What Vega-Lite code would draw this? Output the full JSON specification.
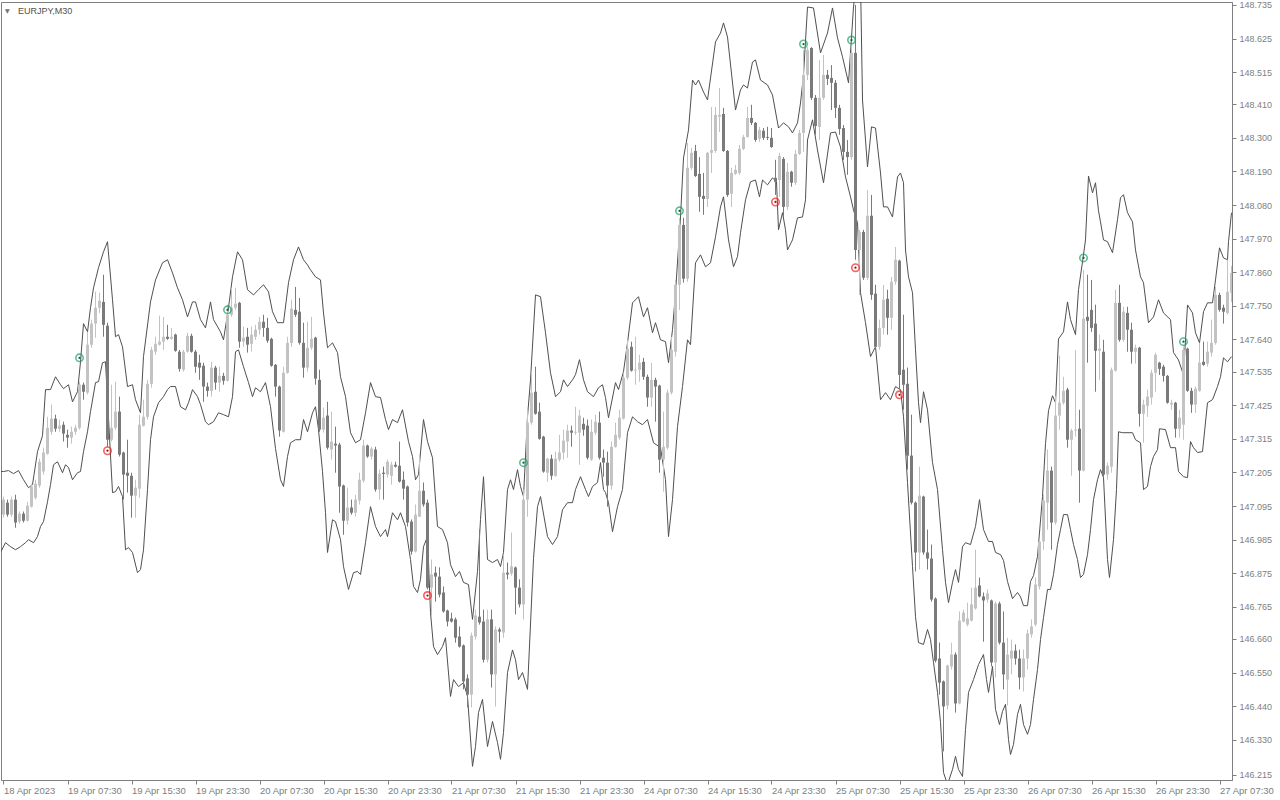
{
"$schema":"https://vega.github.io/schema/vega-lite/v6.json",
"width":1231,"height":778,"autosize":{"type":"none"},
"padding":{"left":1,"top":2,"right":48,"bottom":20},
"background":"#ffffff",
"config":{"view":{"stroke":"#808080"},"axis":{"labelFont":"Liberation Sans","labelFontSize":9,"labelColor":"#808080","tickColor":"#808080","domainColor":"#808080","grid":false,"tickSize":4,"labelOverlap":false,"labelFlush":false,"labelBound":false}},
"resolve":{"axis":{"x":"independent","y":"independent"}},
"datasets":{
"candles":[
{"i":0,"o":147.067,"h":147.126,"l":147.057,"c":147.116},
{"i":1,"o":147.106,"h":147.116,"l":147.060,"c":147.067},
{"i":2,"o":147.067,"h":147.126,"l":147.060,"c":147.116},
{"i":3,"o":147.116,"h":147.132,"l":147.024,"c":147.041},
{"i":4,"o":147.044,"h":147.077,"l":147.037,"c":147.070},
{"i":5,"o":147.070,"h":147.077,"l":147.041,"c":147.047},
{"i":6,"o":147.047,"h":147.109,"l":147.044,"c":147.096},
{"i":7,"o":147.093,"h":147.168,"l":147.090,"c":147.159},
{"i":8,"o":147.122,"h":147.181,"l":147.116,"c":147.168},
{"i":9,"o":147.162,"h":147.250,"l":147.155,"c":147.240},
{"i":10,"o":147.208,"h":147.286,"l":147.198,"c":147.270},
{"i":11,"o":147.266,"h":147.387,"l":147.263,"c":147.351},
{"i":12,"o":147.338,"h":147.427,"l":147.328,"c":147.381},
{"i":13,"o":147.381,"h":147.394,"l":147.338,"c":147.348},
{"i":14,"o":147.348,"h":147.378,"l":147.338,"c":147.358},
{"i":15,"o":147.361,"h":147.371,"l":147.306,"c":147.332},
{"i":16,"o":147.328,"h":147.345,"l":147.286,"c":147.319},
{"i":17,"o":147.319,"h":147.355,"l":147.299,"c":147.338},
{"i":18,"o":147.338,"h":147.361,"l":147.328,"c":147.351},
{"i":19,"o":147.351,"h":147.502,"l":147.345,"c":147.492},
{"i":20,"o":147.492,"h":147.499,"l":147.443,"c":147.469},
{"i":21,"o":147.466,"h":147.665,"l":147.460,"c":147.623},
{"i":22,"o":147.623,"h":147.705,"l":147.613,"c":147.692},
{"i":23,"o":147.692,"h":147.796,"l":147.646,"c":147.744},
{"i":24,"o":147.744,"h":147.793,"l":147.727,"c":147.767},
{"i":25,"o":147.763,"h":147.852,"l":147.649,"c":147.688},
{"i":26,"o":147.685,"h":147.695,"l":147.289,"c":147.312},
{"i":27,"o":147.312,"h":147.492,"l":147.306,"c":147.351},
{"i":28,"o":147.351,"h":147.502,"l":147.345,"c":147.404},
{"i":29,"o":147.404,"h":147.453,"l":147.257,"c":147.263},
{"i":30,"o":147.270,"h":147.273,"l":147.116,"c":147.198},
{"i":31,"o":147.204,"h":147.312,"l":147.139,"c":147.194},
{"i":32,"o":147.194,"h":147.204,"l":147.057,"c":147.129},
{"i":33,"o":147.129,"h":147.181,"l":147.057,"c":147.155},
{"i":34,"o":147.152,"h":147.394,"l":147.122,"c":147.361},
{"i":35,"o":147.358,"h":147.443,"l":147.355,"c":147.387},
{"i":36,"o":147.387,"h":147.508,"l":147.378,"c":147.495},
{"i":37,"o":147.495,"h":147.616,"l":147.482,"c":147.606},
{"i":38,"o":147.600,"h":147.649,"l":147.590,"c":147.626},
{"i":39,"o":147.623,"h":147.718,"l":147.620,"c":147.633},
{"i":40,"o":147.633,"h":147.714,"l":147.606,"c":147.649},
{"i":41,"o":147.649,"h":147.688,"l":147.639,"c":147.642},
{"i":42,"o":147.642,"h":147.678,"l":147.639,"c":147.649},
{"i":43,"o":147.656,"h":147.659,"l":147.600,"c":147.603},
{"i":44,"o":147.600,"h":147.606,"l":147.535,"c":147.544},
{"i":45,"o":147.541,"h":147.606,"l":147.535,"c":147.600},
{"i":46,"o":147.600,"h":147.662,"l":147.597,"c":147.652},
{"i":47,"o":147.652,"h":147.659,"l":147.597,"c":147.600},
{"i":48,"o":147.600,"h":147.606,"l":147.531,"c":147.551},
{"i":49,"o":147.564,"h":147.590,"l":147.508,"c":147.548},
{"i":50,"o":147.554,"h":147.564,"l":147.436,"c":147.486},
{"i":51,"o":147.486,"h":147.499,"l":147.453,"c":147.472},
{"i":52,"o":147.472,"h":147.567,"l":147.453,"c":147.548},
{"i":53,"o":147.548,"h":147.554,"l":147.476,"c":147.499},
{"i":54,"o":147.499,"h":147.551,"l":147.469,"c":147.521},
{"i":55,"o":147.521,"h":147.531,"l":147.492,"c":147.505},
{"i":56,"o":147.505,"h":147.754,"l":147.502,"c":147.721},
{"i":57,"o":147.721,"h":147.809,"l":147.714,"c":147.744},
{"i":58,"o":147.744,"h":147.809,"l":147.737,"c":147.757},
{"i":59,"o":147.760,"h":147.763,"l":147.613,"c":147.633},
{"i":60,"o":147.633,"h":147.682,"l":147.616,"c":147.646},
{"i":61,"o":147.649,"h":147.678,"l":147.597,"c":147.623},
{"i":62,"o":147.626,"h":147.682,"l":147.600,"c":147.656},
{"i":63,"o":147.649,"h":147.688,"l":147.639,"c":147.672},
{"i":64,"o":147.672,"h":147.714,"l":147.656,"c":147.698},
{"i":65,"o":147.698,"h":147.721,"l":147.649,"c":147.678},
{"i":66,"o":147.678,"h":147.711,"l":147.629,"c":147.636},
{"i":67,"o":147.642,"h":147.646,"l":147.551,"c":147.554},
{"i":68,"o":147.557,"h":147.560,"l":147.453,"c":147.486},
{"i":69,"o":147.486,"h":147.489,"l":147.322,"c":147.342},
{"i":70,"o":147.338,"h":147.551,"l":147.335,"c":147.531},
{"i":71,"o":147.531,"h":147.649,"l":147.528,"c":147.629},
{"i":72,"o":147.629,"h":147.770,"l":147.616,"c":147.741},
{"i":73,"o":147.737,"h":147.812,"l":147.714,"c":147.721},
{"i":74,"o":147.731,"h":147.776,"l":147.623,"c":147.629},
{"i":75,"o":147.629,"h":147.695,"l":147.515,"c":147.548},
{"i":76,"o":147.548,"h":147.698,"l":147.535,"c":147.613},
{"i":77,"o":147.613,"h":147.714,"l":147.606,"c":147.642},
{"i":78,"o":147.646,"h":147.649,"l":147.492,"c":147.512},
{"i":79,"o":147.508,"h":147.541,"l":147.338,"c":147.345},
{"i":80,"o":147.345,"h":147.417,"l":147.335,"c":147.384},
{"i":81,"o":147.391,"h":147.436,"l":147.280,"c":147.286},
{"i":82,"o":147.280,"h":147.404,"l":147.247,"c":147.306},
{"i":83,"o":147.299,"h":147.355,"l":147.204,"c":147.293},
{"i":84,"o":147.296,"h":147.302,"l":147.073,"c":147.159},
{"i":85,"o":147.162,"h":147.165,"l":147.001,"c":147.047},
{"i":86,"o":147.047,"h":147.155,"l":147.034,"c":147.090},
{"i":87,"o":147.090,"h":147.116,"l":147.067,"c":147.073},
{"i":88,"o":147.073,"h":147.132,"l":147.060,"c":147.116},
{"i":89,"o":147.113,"h":147.204,"l":147.100,"c":147.181},
{"i":90,"o":147.178,"h":147.312,"l":147.172,"c":147.293},
{"i":91,"o":147.293,"h":147.296,"l":147.253,"c":147.257},
{"i":92,"o":147.257,"h":147.289,"l":147.247,"c":147.283},
{"i":93,"o":147.280,"h":147.289,"l":147.142,"c":147.149},
{"i":94,"o":147.149,"h":147.214,"l":147.116,"c":147.201},
{"i":95,"o":147.204,"h":147.224,"l":147.116,"c":147.200},
{"i":96,"o":147.198,"h":147.247,"l":147.188,"c":147.240},
{"i":97,"o":147.194,"h":147.240,"l":147.165,"c":147.230},
{"i":98,"o":147.230,"h":147.240,"l":147.221,"c":147.224},
{"i":99,"o":147.227,"h":147.306,"l":147.172,"c":147.175},
{"i":100,"o":147.181,"h":147.208,"l":147.116,"c":147.152},
{"i":101,"o":147.159,"h":147.162,"l":147.028,"c":147.041},
{"i":102,"o":147.044,"h":147.051,"l":146.936,"c":146.946},
{"i":103,"o":146.946,"h":147.100,"l":146.943,"c":147.067},
{"i":104,"o":147.060,"h":147.263,"l":147.060,"c":147.145},
{"i":105,"o":147.145,"h":147.172,"l":147.093,"c":147.100},
{"i":106,"o":147.106,"h":147.116,"l":146.822,"c":146.828},
{"i":107,"o":146.828,"h":146.920,"l":146.733,"c":146.871},
{"i":108,"o":146.877,"h":146.897,"l":146.782,"c":146.864},
{"i":109,"o":146.864,"h":146.894,"l":146.796,"c":146.805},
{"i":110,"o":146.812,"h":146.832,"l":146.746,"c":146.750},
{"i":111,"o":146.753,"h":146.756,"l":146.701,"c":146.717},
{"i":112,"o":146.727,"h":146.746,"l":146.714,"c":146.717},
{"i":113,"o":146.724,"h":146.730,"l":146.648,"c":146.664},
{"i":114,"o":146.668,"h":146.701,"l":146.632,"c":146.635},
{"i":115,"o":146.639,"h":146.642,"l":146.495,"c":146.521},
{"i":116,"o":146.531,"h":146.544,"l":146.436,"c":146.478},
{"i":117,"o":146.478,"h":146.681,"l":146.436,"c":146.671},
{"i":118,"o":146.668,"h":146.756,"l":146.658,"c":146.737},
{"i":119,"o":146.733,"h":147.018,"l":146.707,"c":146.714},
{"i":120,"o":146.717,"h":146.756,"l":146.583,"c":146.592},
{"i":121,"o":146.592,"h":146.756,"l":146.583,"c":146.724},
{"i":122,"o":146.724,"h":146.756,"l":146.501,"c":146.544},
{"i":123,"o":146.544,"h":146.701,"l":146.439,"c":146.691},
{"i":124,"o":146.691,"h":146.697,"l":146.648,"c":146.684},
{"i":125,"o":146.681,"h":146.936,"l":146.664,"c":146.877},
{"i":126,"o":146.877,"h":146.910,"l":146.855,"c":146.871},
{"i":127,"o":146.874,"h":147.008,"l":146.867,"c":146.897},
{"i":128,"o":146.894,"h":146.897,"l":146.740,"c":146.828},
{"i":129,"o":146.828,"h":146.855,"l":146.763,"c":146.773},
{"i":130,"o":146.773,"h":147.149,"l":146.724,"c":147.116},
{"i":131,"o":147.116,"h":147.410,"l":147.060,"c":147.368},
{"i":132,"o":147.368,"h":147.535,"l":147.361,"c":147.466},
{"i":133,"o":147.469,"h":147.551,"l":147.394,"c":147.397},
{"i":134,"o":147.404,"h":147.433,"l":147.312,"c":147.315},
{"i":135,"o":147.322,"h":147.325,"l":147.204,"c":147.208},
{"i":136,"o":147.204,"h":147.253,"l":147.175,"c":147.250},
{"i":137,"o":147.250,"h":147.263,"l":147.181,"c":147.194},
{"i":138,"o":147.194,"h":147.273,"l":147.191,"c":147.250},
{"i":139,"o":147.247,"h":147.328,"l":147.240,"c":147.270},
{"i":140,"o":147.270,"h":147.345,"l":147.247,"c":147.309},
{"i":141,"o":147.306,"h":147.361,"l":147.253,"c":147.342},
{"i":142,"o":147.342,"h":147.358,"l":147.289,"c":147.335},
{"i":143,"o":147.335,"h":147.420,"l":147.328,"c":147.338},
{"i":144,"o":147.335,"h":147.410,"l":147.230,"c":147.391},
{"i":145,"o":147.364,"h":147.384,"l":147.325,"c":147.345},
{"i":146,"o":147.358,"h":147.378,"l":147.247,"c":147.253},
{"i":147,"o":147.247,"h":147.378,"l":147.243,"c":147.338},
{"i":148,"o":147.335,"h":147.394,"l":147.328,"c":147.371},
{"i":149,"o":147.368,"h":147.404,"l":147.247,"c":147.253},
{"i":150,"o":147.253,"h":147.280,"l":147.191,"c":147.237},
{"i":151,"o":147.237,"h":147.273,"l":147.093,"c":147.162},
{"i":152,"o":147.162,"h":147.306,"l":147.149,"c":147.289},
{"i":153,"o":147.289,"h":147.368,"l":147.286,"c":147.328},
{"i":154,"o":147.319,"h":147.410,"l":147.312,"c":147.384},
{"i":155,"o":147.381,"h":147.531,"l":147.378,"c":147.515},
{"i":156,"o":147.515,"h":147.639,"l":147.508,"c":147.610},
{"i":157,"o":147.616,"h":147.633,"l":147.535,"c":147.538},
{"i":158,"o":147.538,"h":147.649,"l":147.492,"c":147.541},
{"i":159,"o":147.541,"h":147.590,"l":147.502,"c":147.564},
{"i":160,"o":147.567,"h":147.580,"l":147.508,"c":147.518},
{"i":161,"o":147.518,"h":147.525,"l":147.420,"c":147.450},
{"i":162,"o":147.450,"h":147.564,"l":147.420,"c":147.508},
{"i":163,"o":147.508,"h":147.515,"l":147.371,"c":147.486},
{"i":164,"o":147.489,"h":147.492,"l":147.204,"c":147.247},
{"i":165,"o":147.247,"h":147.404,"l":147.142,"c":147.289},
{"i":166,"o":147.286,"h":147.476,"l":147.280,"c":147.466},
{"i":167,"o":147.466,"h":147.649,"l":147.460,"c":147.606},
{"i":168,"o":147.600,"h":147.835,"l":147.584,"c":147.819},
{"i":169,"o":147.819,"h":148.038,"l":147.737,"c":148.015},
{"i":170,"o":148.015,"h":148.038,"l":147.826,"c":147.839},
{"i":171,"o":147.839,"h":148.283,"l":147.829,"c":148.202},
{"i":172,"o":148.202,"h":148.267,"l":148.195,"c":148.251},
{"i":173,"o":148.257,"h":148.277,"l":148.172,"c":148.175},
{"i":174,"o":148.182,"h":148.237,"l":148.058,"c":148.107},
{"i":175,"o":148.110,"h":148.185,"l":148.048,"c":148.100},
{"i":176,"o":148.100,"h":148.254,"l":148.074,"c":148.251},
{"i":177,"o":148.251,"h":148.401,"l":148.185,"c":148.260},
{"i":178,"o":148.257,"h":148.401,"l":148.251,"c":148.375},
{"i":179,"o":148.369,"h":148.463,"l":148.319,"c":148.375},
{"i":180,"o":148.378,"h":148.398,"l":148.254,"c":148.257},
{"i":181,"o":148.257,"h":148.260,"l":148.107,"c":148.113},
{"i":182,"o":148.117,"h":148.202,"l":148.074,"c":148.185},
{"i":183,"o":148.182,"h":148.211,"l":148.179,"c":148.195},
{"i":184,"o":148.185,"h":148.277,"l":148.179,"c":148.264},
{"i":185,"o":148.264,"h":148.310,"l":148.260,"c":148.303},
{"i":186,"o":148.303,"h":148.401,"l":148.300,"c":148.365},
{"i":187,"o":148.365,"h":148.408,"l":148.342,"c":148.349},
{"i":188,"o":148.349,"h":148.352,"l":148.287,"c":148.293},
{"i":189,"o":148.297,"h":148.336,"l":148.287,"c":148.326},
{"i":190,"o":148.323,"h":148.332,"l":148.293,"c":148.300},
{"i":191,"o":148.303,"h":148.336,"l":148.293,"c":148.300},
{"i":192,"o":148.300,"h":148.332,"l":148.267,"c":148.270},
{"i":193,"o":148.169,"h":148.228,"l":148.113,"c":148.156},
{"i":194,"o":148.162,"h":148.251,"l":148.107,"c":148.241},
{"i":195,"o":148.231,"h":148.237,"l":148.041,"c":148.074},
{"i":196,"o":148.074,"h":148.218,"l":148.064,"c":148.189},
{"i":197,"o":148.189,"h":148.192,"l":148.140,"c":148.153},
{"i":198,"o":148.153,"h":148.260,"l":148.146,"c":148.247},
{"i":199,"o":148.247,"h":148.326,"l":148.244,"c":148.316},
{"i":200,"o":148.316,"h":148.587,"l":148.254,"c":148.506},
{"i":201,"o":148.506,"h":148.597,"l":148.489,"c":148.587},
{"i":202,"o":148.594,"h":148.597,"l":148.424,"c":148.431},
{"i":203,"o":148.431,"h":148.440,"l":148.310,"c":148.339},
{"i":204,"o":148.336,"h":148.555,"l":148.293,"c":148.431},
{"i":205,"o":148.431,"h":148.571,"l":148.424,"c":148.506},
{"i":206,"o":148.506,"h":148.522,"l":148.473,"c":148.493},
{"i":207,"o":148.496,"h":148.538,"l":148.391,"c":148.480},
{"i":208,"o":148.480,"h":148.489,"l":148.365,"c":148.398},
{"i":209,"o":148.398,"h":148.408,"l":148.310,"c":148.329},
{"i":210,"o":148.332,"h":148.342,"l":148.228,"c":148.254},
{"i":211,"o":148.254,"h":148.293,"l":148.179,"c":148.237},
{"i":212,"o":148.237,"h":148.597,"l":148.228,"c":148.578},
{"i":213,"o":148.578,"h":148.735,"l":147.901,"c":147.933},
{"i":214,"o":147.933,"h":147.999,"l":147.786,"c":147.992},
{"i":215,"o":147.992,"h":147.999,"l":147.835,"c":147.842},
{"i":216,"o":147.842,"h":148.130,"l":147.835,"c":148.045},
{"i":217,"o":148.045,"h":148.113,"l":147.770,"c":147.786},
{"i":218,"o":147.790,"h":147.819,"l":147.606,"c":147.616},
{"i":219,"o":147.616,"h":147.705,"l":147.606,"c":147.678},
{"i":220,"o":147.678,"h":147.819,"l":147.656,"c":147.770},
{"i":221,"o":147.773,"h":147.803,"l":147.656,"c":147.711},
{"i":222,"o":147.711,"h":147.845,"l":147.672,"c":147.829},
{"i":223,"o":147.829,"h":147.943,"l":147.819,"c":147.901},
{"i":224,"o":147.898,"h":147.901,"l":147.476,"c":147.524},
{"i":225,"o":147.541,"h":147.721,"l":147.410,"c":147.492},
{"i":226,"o":147.495,"h":147.548,"l":147.214,"c":147.260},
{"i":227,"o":147.260,"h":147.394,"l":147.100,"c":147.106},
{"i":228,"o":147.106,"h":147.110,"l":146.881,"c":146.943},
{"i":229,"o":146.943,"h":147.224,"l":146.887,"c":147.129},
{"i":230,"o":147.126,"h":147.129,"l":146.936,"c":146.943},
{"i":231,"o":146.943,"h":147.018,"l":146.887,"c":146.923},
{"i":232,"o":146.923,"h":146.969,"l":146.782,"c":146.789},
{"i":233,"o":146.792,"h":146.796,"l":146.583,"c":146.589},
{"i":234,"o":146.596,"h":146.648,"l":146.478,"c":146.517},
{"i":235,"o":146.521,"h":146.524,"l":146.292,"c":146.439},
{"i":236,"o":146.442,"h":146.576,"l":146.429,"c":146.573},
{"i":237,"o":146.570,"h":146.648,"l":146.560,"c":146.609},
{"i":238,"o":146.609,"h":146.616,"l":146.419,"c":146.449},
{"i":239,"o":146.449,"h":146.750,"l":146.446,"c":146.720},
{"i":240,"o":146.717,"h":146.756,"l":146.714,"c":146.746},
{"i":241,"o":146.707,"h":146.779,"l":146.701,"c":146.727},
{"i":242,"o":146.720,"h":146.828,"l":146.717,"c":146.773},
{"i":243,"o":146.760,"h":146.952,"l":146.756,"c":146.828},
{"i":244,"o":146.835,"h":146.861,"l":146.796,"c":146.799},
{"i":245,"o":146.799,"h":146.812,"l":146.651,"c":146.786},
{"i":246,"o":146.789,"h":146.822,"l":146.779,"c":146.809},
{"i":247,"o":146.786,"h":146.789,"l":146.570,"c":146.583},
{"i":248,"o":146.583,"h":146.782,"l":146.534,"c":146.776},
{"i":249,"o":146.776,"h":146.782,"l":146.642,"c":146.648},
{"i":250,"o":146.648,"h":146.750,"l":146.495,"c":146.544},
{"i":251,"o":146.527,"h":146.664,"l":146.442,"c":146.609},
{"i":252,"o":146.596,"h":146.658,"l":146.544,"c":146.622},
{"i":253,"o":146.622,"h":146.642,"l":146.576,"c":146.596},
{"i":254,"o":146.596,"h":146.625,"l":146.495,"c":146.534},
{"i":255,"o":146.534,"h":146.625,"l":146.488,"c":146.596},
{"i":256,"o":146.596,"h":146.691,"l":146.560,"c":146.678},
{"i":257,"o":146.675,"h":146.724,"l":146.664,"c":146.701},
{"i":258,"o":146.707,"h":146.861,"l":146.701,"c":146.838},
{"i":259,"o":146.832,"h":146.985,"l":146.822,"c":146.979},
{"i":260,"o":146.979,"h":147.132,"l":146.952,"c":147.113},
{"i":261,"o":147.106,"h":147.280,"l":147.018,"c":147.211},
{"i":262,"o":147.211,"h":147.224,"l":146.952,"c":147.041},
{"i":263,"o":147.041,"h":147.456,"l":147.034,"c":147.391},
{"i":264,"o":147.391,"h":147.587,"l":147.345,"c":147.433},
{"i":265,"o":147.433,"h":147.518,"l":147.427,"c":147.472},
{"i":266,"o":147.476,"h":147.482,"l":147.286,"c":147.312},
{"i":267,"o":147.312,"h":147.348,"l":147.194,"c":147.342},
{"i":268,"o":147.342,"h":147.606,"l":147.322,"c":147.345},
{"i":269,"o":147.348,"h":147.410,"l":147.106,"c":147.211},
{"i":270,"o":147.211,"h":147.868,"l":147.208,"c":147.708},
{"i":271,"o":147.714,"h":147.852,"l":147.564,"c":147.701},
{"i":272,"o":147.737,"h":147.835,"l":147.665,"c":147.678},
{"i":273,"o":147.692,"h":147.754,"l":147.469,"c":147.603},
{"i":274,"o":147.603,"h":147.656,"l":147.508,"c":147.610},
{"i":275,"o":147.600,"h":147.639,"l":147.188,"c":147.198},
{"i":276,"o":147.198,"h":147.237,"l":147.181,"c":147.227},
{"i":277,"o":147.224,"h":147.548,"l":147.204,"c":147.541},
{"i":278,"o":147.538,"h":147.803,"l":147.535,"c":147.760},
{"i":279,"o":147.760,"h":147.819,"l":147.633,"c":147.639},
{"i":280,"o":147.639,"h":147.747,"l":147.633,"c":147.731},
{"i":281,"o":147.727,"h":147.747,"l":147.600,"c":147.672},
{"i":282,"o":147.672,"h":147.695,"l":147.561,"c":147.600},
{"i":283,"o":147.600,"h":147.623,"l":147.561,"c":147.613},
{"i":284,"o":147.613,"h":147.616,"l":147.355,"c":147.397},
{"i":285,"o":147.397,"h":147.443,"l":147.302,"c":147.427},
{"i":286,"o":147.423,"h":147.476,"l":147.387,"c":147.453},
{"i":287,"o":147.450,"h":147.541,"l":147.427,"c":147.531},
{"i":288,"o":147.531,"h":147.597,"l":147.469,"c":147.590},
{"i":289,"o":147.564,"h":147.567,"l":147.524,"c":147.544},
{"i":290,"o":147.551,"h":147.557,"l":147.502,"c":147.521},
{"i":291,"o":147.521,"h":147.524,"l":147.430,"c":147.433},
{"i":292,"o":147.427,"h":147.443,"l":147.410,"c":147.433},
{"i":293,"o":147.433,"h":147.436,"l":147.319,"c":147.348},
{"i":294,"o":147.348,"h":147.410,"l":147.319,"c":147.384},
{"i":295,"o":147.361,"h":147.616,"l":147.312,"c":147.606},
{"i":296,"o":147.610,"h":147.613,"l":147.469,"c":147.472},
{"i":297,"o":147.472,"h":147.482,"l":147.400,"c":147.427},
{"i":298,"o":147.427,"h":147.486,"l":147.400,"c":147.479},
{"i":299,"o":147.472,"h":147.629,"l":147.469,"c":147.564},
{"i":300,"o":147.567,"h":147.633,"l":147.554,"c":147.557},
{"i":301,"o":147.561,"h":147.633,"l":147.551,"c":147.600},
{"i":302,"o":147.597,"h":147.705,"l":147.584,"c":147.629},
{"i":303,"o":147.629,"h":147.812,"l":147.623,"c":147.786},
{"i":304,"o":147.786,"h":147.793,"l":147.731,"c":147.737},
{"i":305,"o":147.744,"h":147.754,"l":147.692,"c":147.731},
{"i":306,"o":147.727,"h":147.901,"l":147.721,"c":147.796},
{"i":307,"o":147.793,"h":147.881,"l":147.763,"c":147.858}
],
"upper":[
{"i":-0.75,"v":147.208},{"i":0,"v":147.208},{"i":1.25,"v":147.211},{"i":2.5,"v":147.201},{"i":3.75,"v":147.211},{"i":5,"v":147.181},{"i":6.25,"v":147.155},{"i":7.25,"v":147.165},{"i":8.5,"v":147.273},{"i":9.75,"v":147.325},{"i":10.5,"v":147.476},{"i":11.75,"v":147.476},{"i":13,"v":147.518},{"i":14.25,"v":147.492},{"i":15,"v":147.479},{"i":16.25,"v":147.492},{"i":17.25,"v":147.436},{"i":18.5,"v":147.469},{"i":19.25,"v":147.567},{"i":20,"v":147.692},{"i":21,"v":147.665},{"i":21.75,"v":147.744},{"i":22.5,"v":147.809},{"i":23.75,"v":147.875},{"i":25,"v":147.927},{"i":26,"v":147.960},{"i":27.25,"v":147.770},{"i":28,"v":147.649},{"i":28.75,"v":147.656},{"i":29.75,"v":147.616},{"i":31,"v":147.486},{"i":32.25,"v":147.492},{"i":33,"v":147.443},{"i":34.25,"v":147.400},{"i":35,"v":147.584},{"i":36.75,"v":147.763},{"i":38,"v":147.835},{"i":39.75,"v":147.891},{"i":41,"v":147.901},{"i":42.25,"v":147.858},{"i":43.5,"v":147.809},{"i":44.75,"v":147.770},{"i":46,"v":147.714},{"i":47.25,"v":147.763},{"i":48,"v":147.763},{"i":49.25,"v":147.705},{"i":50.5,"v":147.678},{"i":51.75,"v":147.763},{"i":52.5,"v":147.705},{"i":54.25,"v":147.665},{"i":55,"v":147.639},{"i":56.25,"v":147.744},{"i":57.25,"v":147.845},{"i":58.5,"v":147.927},{"i":59.75,"v":147.901},{"i":61,"v":147.803},{"i":62.5,"v":147.786},{"i":63.75,"v":147.803},{"i":65,"v":147.819},{"i":66.25,"v":147.796},{"i":67.25,"v":147.731},{"i":68.5,"v":147.695},{"i":70,"v":147.695},{"i":71.25,"v":147.826},{"i":72.5,"v":147.901},{"i":73.75,"v":147.943},{"i":75,"v":147.901},{"i":76,"v":147.884},{"i":76.75,"v":147.868},{"i":78,"v":147.845},{"i":79.25,"v":147.835},{"i":80,"v":147.727},{"i":81,"v":147.613},{"i":82.25,"v":147.629},{"i":83.5,"v":147.597},{"i":84.25,"v":147.518},{"i":85.5,"v":147.453},{"i":86.75,"v":147.335},{"i":88,"v":147.302},{"i":89.25,"v":147.312},{"i":90.5,"v":147.400},{"i":91.75,"v":147.499},{"i":93,"v":147.453},{"i":94.25,"v":147.450},{"i":95.5,"v":147.378},{"i":96.25,"v":147.345},{"i":97.25,"v":147.378},{"i":98.5,"v":147.368},{"i":99.75,"v":147.410},{"i":101.25,"v":147.306},{"i":102.25,"v":147.257},{"i":103,"v":147.181},{"i":103.75,"v":147.198},{"i":105,"v":147.378},{"i":106,"v":147.306},{"i":107.25,"v":147.253},{"i":108.5,"v":147.028},{"i":109.75,"v":147.018},{"i":111,"v":146.975},{"i":111.75,"v":146.903},{"i":113,"v":146.864},{"i":114,"v":146.881},{"i":115,"v":146.845},{"i":116.25,"v":146.838},{"i":117.25,"v":146.724},{"i":118.5,"v":146.881},{"i":119.25,"v":147.051},{"i":120,"v":147.191},{"i":121,"v":146.920},{"i":122.25,"v":146.910},{"i":123.5,"v":146.920},{"i":124.25,"v":146.897},{"i":125,"v":146.943},{"i":126,"v":147.149},{"i":126.75,"v":147.181},{"i":127.5,"v":147.149},{"i":128.5,"v":147.214},{"i":129.25,"v":147.159},{"i":130,"v":147.126},{"i":131,"v":147.387},{"i":131.75,"v":147.508},{"i":133,"v":147.786},{"i":134.25,"v":147.780},{"i":135.5,"v":147.662},{"i":136.75,"v":147.531},{"i":138,"v":147.453},{"i":139.25,"v":147.469},{"i":140,"v":147.508},{"i":141,"v":147.486},{"i":142.25,"v":147.508},{"i":143,"v":147.525},{"i":144,"v":147.574},{"i":145,"v":147.508},{"i":146,"v":147.469},{"i":147.5,"v":147.453},{"i":148.75,"v":147.482},{"i":149.75,"v":147.492},{"i":150.5,"v":147.450},{"i":151.25,"v":147.384},{"i":153,"v":147.499},{"i":153.75,"v":147.476},{"i":155,"v":147.535},{"i":156,"v":147.629},{"i":157.25,"v":147.760},{"i":158.75,"v":147.780},{"i":160,"v":147.714},{"i":161,"v":147.744},{"i":162.25,"v":147.662},{"i":163,"v":147.695},{"i":164.25,"v":147.639},{"i":165.5,"v":147.633},{"i":166.25,"v":147.564},{"i":167.25,"v":147.672},{"i":168,"v":147.793},{"i":169.25,"v":148.041},{"i":170,"v":148.234},{"i":171.25,"v":148.326},{"i":172.25,"v":148.489},{"i":173,"v":148.473},{"i":173.75,"v":148.489},{"i":175,"v":148.450},{"i":176,"v":148.424},{"i":178,"v":148.614},{"i":179.25,"v":148.643},{"i":180,"v":148.676},{"i":181,"v":148.630},{"i":183,"v":148.391},{"i":184.25,"v":148.457},{"i":185,"v":148.473},{"i":186,"v":148.463},{"i":187.25,"v":148.548},{"i":188,"v":148.555},{"i":189.25,"v":148.489},{"i":191,"v":148.473},{"i":192.25,"v":148.440},{"i":193.75,"v":148.332},{"i":195,"v":148.349},{"i":196.25,"v":148.336},{"i":197.25,"v":148.316},{"i":198.5,"v":148.349},{"i":199.25,"v":148.414},{"i":200,"v":148.506},{"i":201,"v":148.728},{"i":202.5,"v":148.725},{"i":204.25,"v":148.578},{"i":206,"v":148.643},{"i":207.25,"v":148.725},{"i":208.5,"v":148.627},{"i":209.75,"v":148.565},{"i":211.25,"v":148.480},{"i":212.5,"v":148.728},{"i":213.5,"v":148.849},{"i":214.25,"v":148.816},{"i":214.75,"v":148.424},{"i":216,"v":148.205},{"i":217,"v":148.336},{"i":218,"v":148.332},{"i":219.25,"v":148.185},{"i":220,"v":148.074},{"i":221,"v":148.074},{"i":222.25,"v":148.041},{"i":223.5,"v":148.172},{"i":224.25,"v":148.185},{"i":225,"v":148.153},{"i":225.5,"v":147.933},{"i":226.25,"v":147.845},{"i":227.25,"v":147.793},{"i":228,"v":147.606},{"i":228.75,"v":147.433},{"i":229.25,"v":147.368},{"i":230,"v":147.469},{"i":231,"v":147.410},{"i":232.25,"v":147.237},{"i":233.5,"v":147.149},{"i":234.75,"v":146.952},{"i":235.5,"v":146.845},{"i":236.25,"v":146.779},{"i":237.25,"v":146.845},{"i":238,"v":146.887},{"i":238.75,"v":146.845},{"i":239.75,"v":146.962},{"i":240.5,"v":146.975},{"i":241.75,"v":146.969},{"i":243,"v":147.028},{"i":244,"v":147.116},{"i":245,"v":147.018},{"i":246.25,"v":146.979},{"i":247.25,"v":146.979},{"i":248,"v":146.943},{"i":249.25,"v":146.936},{"i":250,"v":146.917},{"i":251,"v":146.848},{"i":252.25,"v":146.792},{"i":253.5,"v":146.812},{"i":254.25,"v":146.798},{"i":255,"v":146.769},{"i":256,"v":146.769},{"i":256.75,"v":146.848},{"i":257.5,"v":146.867},{"i":258.5,"v":146.930},{"i":259.75,"v":147.126},{"i":260.5,"v":147.299},{"i":261.25,"v":147.407},{"i":262.25,"v":147.456},{"i":263,"v":147.433},{"i":263.75,"v":147.642},{"i":265,"v":147.665},{"i":266,"v":147.763},{"i":266.75,"v":147.705},{"i":268,"v":147.656},{"i":268.75,"v":147.803},{"i":269.75,"v":147.894},{"i":270.5,"v":147.966},{"i":271.25,"v":148.175},{"i":272.25,"v":148.120},{"i":273,"v":148.153},{"i":273.75,"v":148.061},{"i":274.25,"v":148.025},{"i":275,"v":147.966},{"i":276,"v":147.960},{"i":277.25,"v":147.924},{"i":278.5,"v":148.032},{"i":279.25,"v":148.104},{"i":280,"v":148.114},{"i":281,"v":148.055},{"i":282.25,"v":148.025},{"i":283,"v":147.933},{"i":284.25,"v":147.845},{"i":285,"v":147.826},{"i":286.25,"v":147.695},{"i":287.5,"v":147.714},{"i":288.75,"v":147.770},{"i":290,"v":147.727},{"i":291.75,"v":147.705},{"i":292.5,"v":147.597},{"i":293.75,"v":147.573},{"i":295,"v":147.524},{"i":296,"v":147.753},{"i":297.25,"v":147.727},{"i":298,"v":147.662},{"i":299,"v":147.629},{"i":300,"v":147.731},{"i":301,"v":147.760},{"i":302.25,"v":147.760},{"i":303,"v":147.835},{"i":304,"v":147.940},{"i":305,"v":147.907},{"i":306,"v":147.901},{"i":306.25,"v":147.960},{"i":307,"v":148.055}
],
"lower":[
{"i":-0.75,"v":146.943},{"i":0.5,"v":146.975},{"i":1.75,"v":146.962},{"i":3,"v":146.952},{"i":4.25,"v":146.962},{"i":5.5,"v":146.975},{"i":6.25,"v":146.985},{"i":7.5,"v":146.975},{"i":8.5,"v":146.995},{"i":9.25,"v":147.028},{"i":10,"v":147.044},{"i":11,"v":147.109},{"i":11.75,"v":147.165},{"i":12.5,"v":147.230},{"i":13.5,"v":147.240},{"i":14.75,"v":147.204},{"i":15.5,"v":147.230},{"i":16.25,"v":147.221},{"i":17.25,"v":147.181},{"i":18.5,"v":147.204},{"i":19.25,"v":147.208},{"i":20,"v":147.273},{"i":21,"v":147.338},{"i":21.75,"v":147.404},{"i":23,"v":147.499},{"i":23.75,"v":147.502},{"i":24.75,"v":147.564},{"i":25.5,"v":147.567},{"i":26,"v":147.443},{"i":27.25,"v":147.139},{"i":28,"v":147.142},{"i":28.75,"v":147.159},{"i":29.75,"v":147.126},{"i":30.5,"v":146.952},{"i":31.25,"v":146.959},{"i":32.25,"v":146.943},{"i":33.5,"v":146.877},{"i":34.25,"v":146.887},{"i":35,"v":146.952},{"i":36,"v":147.149},{"i":36.75,"v":147.312},{"i":37.5,"v":147.387},{"i":38.75,"v":147.433},{"i":40,"v":147.453},{"i":41,"v":147.476},{"i":41.75,"v":147.486},{"i":43,"v":147.486},{"i":44.25,"v":147.420},{"i":45.5,"v":147.410},{"i":46.25,"v":147.433},{"i":47.25,"v":147.476},{"i":48.5,"v":147.453},{"i":49.25,"v":147.427},{"i":50.5,"v":147.371},{"i":51.25,"v":147.361},{"i":52.5,"v":147.371},{"i":53.75,"v":147.400},{"i":55,"v":147.394},{"i":56.25,"v":147.387},{"i":57.25,"v":147.453},{"i":58,"v":147.600},{"i":58.75,"v":147.606},{"i":60,"v":147.551},{"i":61.25,"v":147.499},{"i":62.25,"v":147.453},{"i":63,"v":147.482},{"i":64.25,"v":147.469},{"i":65.5,"v":147.499},{"i":66.75,"v":147.420},{"i":68,"v":147.283},{"i":69.25,"v":147.181},{"i":70,"v":147.159},{"i":71,"v":147.257},{"i":71.75,"v":147.302},{"i":73,"v":147.312},{"i":74.25,"v":147.312},{"i":75,"v":147.378},{"i":76,"v":147.338},{"i":77.25,"v":147.400},{"i":78,"v":147.420},{"i":78.75,"v":147.345},{"i":79.75,"v":147.208},{"i":80.5,"v":147.073},{"i":81,"v":146.943},{"i":82.25,"v":147.050},{"i":83,"v":147.044},{"i":84.25,"v":146.985},{"i":85,"v":146.897},{"i":86.25,"v":146.822},{"i":87.5,"v":146.877},{"i":88.5,"v":146.881},{"i":89.25,"v":146.871},{"i":90.5,"v":146.975},{"i":91.75,"v":147.093},{"i":93,"v":147.028},{"i":94.25,"v":146.995},{"i":95.5,"v":147.018},{"i":96,"v":146.995},{"i":97.25,"v":147.073},{"i":98.5,"v":147.050},{"i":99.25,"v":147.073},{"i":100.5,"v":147.028},{"i":101.75,"v":146.920},{"i":102.5,"v":146.832},{"i":103.5,"v":146.812},{"i":104.25,"v":146.855},{"i":105,"v":146.962},{"i":106,"v":146.995},{"i":106.75,"v":146.746},{"i":107.5,"v":146.635},{"i":108.5,"v":146.609},{"i":109.75,"v":146.635},{"i":110.5,"v":146.664},{"i":111.75,"v":146.472},{"i":112.5,"v":146.527},{"i":113.75,"v":146.504},{"i":115,"v":146.517},{"i":116,"v":146.472},{"i":117.25,"v":146.243},{"i":118,"v":146.308},{"i":118.75,"v":146.419},{"i":119.75,"v":146.462},{"i":121,"v":146.308},{"i":122.25,"v":146.390},{"i":123.5,"v":146.321},{"i":124.25,"v":146.266},{"i":125,"v":146.354},{"i":126,"v":146.550},{"i":127.25,"v":146.624},{"i":128,"v":146.592},{"i":128.75,"v":146.527},{"i":129.75,"v":146.550},{"i":131,"v":146.495},{"i":132.5,"v":146.923},{"i":133.5,"v":147.093},{"i":134.25,"v":147.126},{"i":136,"v":146.995},{"i":137.25,"v":146.969},{"i":138.5,"v":146.995},{"i":139.75,"v":147.083},{"i":141,"v":147.106},{"i":142.25,"v":147.106},{"i":143,"v":147.149},{"i":144.25,"v":147.191},{"i":145.5,"v":147.149},{"i":146.25,"v":147.126},{"i":147.25,"v":147.159},{"i":148.5,"v":147.172},{"i":149.25,"v":147.237},{"i":150,"v":147.149},{"i":150.5,"v":147.139},{"i":151.25,"v":147.106},{"i":152.25,"v":147.011},{"i":153.5,"v":147.093},{"i":154.75,"v":147.149},{"i":156,"v":147.335},{"i":157.25,"v":147.387},{"i":158.5,"v":147.371},{"i":159.75,"v":147.361},{"i":161,"v":147.378},{"i":162.5,"v":147.302},{"i":164.25,"v":147.286},{"i":165.5,"v":147.181},{"i":166.25,"v":146.995},{"i":167.25,"v":147.116},{"i":168.5,"v":147.355},{"i":169.75,"v":147.486},{"i":171,"v":147.639},{"i":171.75,"v":147.623},{"i":173,"v":147.891},{"i":174.25,"v":147.917},{"i":175.5,"v":147.878},{"i":176.75,"v":147.891},{"i":178,"v":147.976},{"i":179.25,"v":148.074},{"i":180,"v":148.107},{"i":181.25,"v":147.966},{"i":182.5,"v":147.878},{"i":183.5,"v":147.911},{"i":184.25,"v":147.989},{"i":185.5,"v":148.097},{"i":186.75,"v":148.156},{"i":188,"v":148.162},{"i":189,"v":148.107},{"i":189.75,"v":148.162},{"i":191,"v":148.146},{"i":192.25,"v":148.169},{"i":193.25,"v":148.156},{"i":193.75,"v":147.999},{"i":194.75,"v":148.055},{"i":195.5,"v":147.999},{"i":196,"v":147.933},{"i":197.25,"v":147.966},{"i":198.5,"v":148.038},{"i":199.75,"v":148.041},{"i":200.5,"v":148.097},{"i":201,"v":148.293},{"i":202.25,"v":148.359},{"i":203.5,"v":148.260},{"i":205,"v":148.153},{"i":206.75,"v":148.316},{"i":208,"v":148.319},{"i":209.25,"v":148.270},{"i":210.5,"v":148.172},{"i":211.75,"v":148.107},{"i":212.5,"v":148.064},{"i":213.5,"v":148.022},{"i":214.25,"v":147.793},{"i":215.5,"v":147.695},{"i":216.75,"v":147.584},{"i":218,"v":147.616},{"i":219.25,"v":147.443},{"i":220.5,"v":147.466},{"i":221.75,"v":147.443},{"i":223,"v":147.486},{"i":224.25,"v":147.476},{"i":225,"v":147.387},{"i":226,"v":147.172},{"i":227.25,"v":146.897},{"i":228,"v":146.733},{"i":228.75,"v":146.648},{"i":230,"v":146.642},{"i":231,"v":146.691},{"i":231.75,"v":146.658},{"i":232.5,"v":146.583},{"i":233.5,"v":146.485},{"i":234.25,"v":146.387},{"i":235,"v":146.223},{"i":236,"v":146.184},{"i":237.25,"v":146.233},{"i":238,"v":146.276},{"i":238.75,"v":146.233},{"i":239.75,"v":146.210},{"i":240.5,"v":146.364},{"i":241.25,"v":146.485},{"i":242.5,"v":146.527},{"i":243.75,"v":146.576},{"i":245,"v":146.609},{"i":245.75,"v":146.527},{"i":246.25,"v":146.485},{"i":247.25,"v":146.570},{"i":248,"v":146.429},{"i":249,"v":146.380},{"i":249.75,"v":146.423},{"i":250.5,"v":146.446},{"i":251.25,"v":146.331},{"i":251.75,"v":146.282},{"i":252.5,"v":146.315},{"i":253.5,"v":146.413},{"i":254.25,"v":146.446},{"i":255,"v":146.380},{"i":256,"v":146.348},{"i":256.75,"v":146.380},{"i":257.5,"v":146.462},{"i":258.5,"v":146.560},{"i":259.25,"v":146.658},{"i":260,"v":146.730},{"i":261,"v":146.822},{"i":261.75,"v":146.822},{"i":262.5,"v":146.871},{"i":263.5,"v":146.969},{"i":264.25,"v":147.018},{"i":265,"v":147.067},{"i":266,"v":147.067},{"i":266.75,"v":147.018},{"i":267.5,"v":146.969},{"i":268.5,"v":146.920},{"i":269.25,"v":146.861},{"i":270,"v":146.871},{"i":271,"v":146.936},{"i":271.75,"v":147.018},{"i":272.5,"v":147.116},{"i":273.5,"v":147.181},{"i":274.25,"v":147.214},{"i":275,"v":147.188},{"i":276,"v":146.920},{"i":276.5,"v":146.861},{"i":277.5,"v":146.985},{"i":278.25,"v":147.149},{"i":278.75,"v":147.338},{"i":279.75,"v":147.335},{"i":282.25,"v":147.335},{"i":283,"v":147.312},{"i":284.25,"v":147.302},{"i":285,"v":147.149},{"i":286,"v":147.159},{"i":286.75,"v":147.224},{"i":287.5,"v":147.257},{"i":288.5,"v":147.280},{"i":289,"v":147.348},{"i":290.5,"v":147.345},{"i":291.75,"v":147.286},{"i":293,"v":147.286},{"i":293.75,"v":147.208},{"i":295,"v":147.191},{"i":296,"v":147.188},{"i":296.75,"v":147.306},{"i":297.5,"v":147.286},{"i":298.5,"v":147.270},{"i":299.75,"v":147.273},{"i":301,"v":147.433},{"i":302.25,"v":147.443},{"i":303.5,"v":147.486},{"i":304.25,"v":147.518},{"i":305,"v":147.580},{"i":306,"v":147.567},{"i":307,"v":147.584}
],
"signals":[
{"i":19,"p":147.580,"t":"buy"},{"i":56,"p":147.737,"t":"buy"},{"i":130,"p":147.237,"t":"buy"},{"i":169,"p":148.061,"t":"buy"},{"i":200,"p":148.607,"t":"buy"},{"i":212,"p":148.620,"t":"buy"},{"i":270,"p":147.907,"t":"buy"},{"i":295,"p":147.633,"t":"buy"},
{"i":26,"p":147.276,"t":"sell"},{"i":106,"p":146.802,"t":"sell"},{"i":193,"p":148.090,"t":"sell"},{"i":213,"p":147.875,"t":"sell"},{"i":224,"p":147.459,"t":"sell"}
],
"caption":[{"label":"EURJPY,M30"}],
"arrow":[{"label":"▼"}]
},
"layer":[
{"data":{"name":"upper"},"mark":{"type":"line","color":"#505050","strokeWidth":1,"clip":true},
"encoding":{
"x":{"field":"i","type":"quantitative","scale":{"domain":[-0.625,307.125],"nice":false,"zero":false,"padding":0},
"axis":{"orient":"bottom","title":null,"values":[0,16,32,48,64,80,96,112,128,144,160,176,192,208,224,240,256,272,288,304],
"labelExpr":"['18 Apr 2023','19 Apr 07:30','19 Apr 15:30','19 Apr 23:30','20 Apr 07:30','20 Apr 15:30','20 Apr 23:30','21 Apr 07:30','21 Apr 15:30','21 Apr 23:30','24 Apr 07:30','24 Apr 15:30','24 Apr 23:30','25 Apr 07:30','25 Apr 15:30','25 Apr 23:30','26 Apr 07:30','26 Apr 15:30','26 Apr 23:30','27 Apr 07:30'][round(datum.value/16)]",
"labelAlign":"left","labelPadding":1,"labelDx":-2,"labelFontSize":9.5}},
"y":{"field":"v","type":"quantitative","scale":{"domain":[146.1984,148.7445],"nice":false,"zero":false,"padding":0},
"axis":{"orient":"right","title":null,"values":[146.215,146.33,146.44,146.55,146.66,146.765,146.875,146.985,147.095,147.205,147.315,147.425,147.535,147.64,147.75,147.86,147.97,148.08,148.19,148.3,148.41,148.515,148.625,148.735],"format":".3f","labelAlign":"left","labelBaseline":"middle","labelPadding":3}}}},
{"data":{"name":"lower"},"mark":{"type":"line","color":"#505050","strokeWidth":1,"clip":true},
"encoding":{"x":{"field":"i","type":"quantitative","axis":null},"y":{"field":"v","type":"quantitative","axis":null}}},
{"data":{"name":"candles"},"mark":{"type":"rule","strokeWidth":1,"clip":true},
"encoding":{"x":{"field":"i","type":"quantitative","axis":null},"y":{"field":"l","type":"quantitative","axis":null},"y2":{"field":"h"},
"color":{"condition":{"test":"datum.c > datum.o","value":"#c3c3c3"},"value":"#7a7a7a"}}},
{"data":{"name":"candles"},"mark":{"type":"bar","size":3,"clip":true},
"encoding":{"x":{"field":"i","type":"quantitative","axis":null},"y":{"field":"o","type":"quantitative","axis":null},"y2":{"field":"c"},
"color":{"condition":{"test":"datum.c > datum.o","value":"#c3c3c3"},"value":"#7a7a7a"}}},
{"data":{"name":"signals"},"mark":{"type":"point","shape":"circle","size":55,"filled":false,"strokeWidth":1.6},
"encoding":{"x":{"field":"i","type":"quantitative","axis":null},"y":{"field":"p","type":"quantitative","axis":null},
"color":{"condition":{"test":"datum.t == 'buy'","value":"#1fa06a"},"value":"#f02020"}}},
{"data":{"name":"signals"},"mark":{"type":"point","shape":"circle","size":5,"filled":true,"opacity":1},
"encoding":{"x":{"field":"i","type":"quantitative","axis":null},"y":{"field":"p","type":"quantitative","axis":null},
"color":{"condition":{"test":"datum.t == 'buy'","value":"#0a6030"},"value":"#c00000"}}},
{"data":{"name":"caption"},"mark":{"type":"text","align":"left","baseline":"alphabetic","font":"Liberation Sans","fontSize":9,"color":"#505050"},
"encoding":{"x":{"datum":3.625,"type":"quantitative","axis":null},"y":{"datum":148.705,"type":"quantitative","axis":null},"text":{"field":"label","type":"nominal"}}},
{"data":{"name":"arrow"},"mark":{"type":"text","align":"left","baseline":"alphabetic","font":"DejaVu Sans","fontSize":6,"color":"#707070"},
"encoding":{"x":{"datum":0.4,"type":"quantitative","axis":null},"y":{"datum":148.708,"type":"quantitative","axis":null},"text":{"field":"label","type":"nominal"}}}
]
}
